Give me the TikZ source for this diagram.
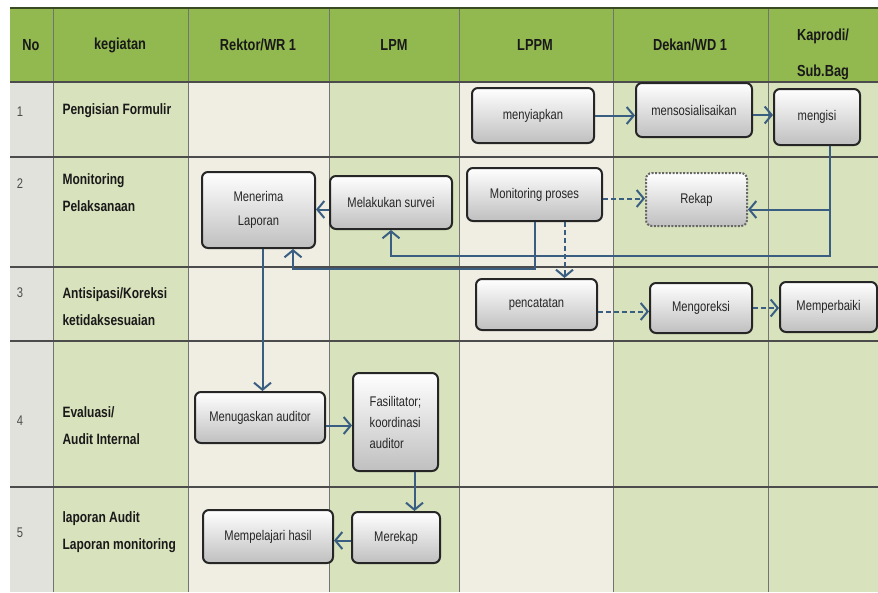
\documentclass[tikz,border=0pt]{standalone}
\usepackage{fontspec}
\setmainfont{Liberation Sans}
\newfontfamily\sempit[FakeStretch=0.8]{Liberation Sans}
\usetikzlibrary{arrows.meta}
\definecolor{kepala}{RGB}{146,184,80}
\definecolor{hijau}{RGB}{216,227,189}
\definecolor{krem}{RGB}{240,237,227}
\definecolor{abu}{RGB}{226,226,220}
\definecolor{garis}{RGB}{58,94,130}

\begin{document}
\begin{tikzpicture}[x=1pt, y=-1pt,
  judul/.style={font=\sempit\bfseries\fontsize{16}{19}\selectfont, text=black!90, align=center},
  nomor/.style={font=\sempit\fontsize{14}{17}\selectfont, text=black!70},
  giat/.style={font=\sempit\bfseries\fontsize{15}{19}\selectfont, text=black!90, align=left, anchor=west},
  kotak/.style={draw=black!85, line width=2pt, rounded corners=6pt, top color=white, bottom color=black!25,
    font=\sempit\fontsize{14}{16}\selectfont, text=black!85, align=center, inner sep=2pt},
  alur/.style={draw=garis, line width=2pt, -{Straight Barb[length=7pt,width=17pt,line width=2pt]}},
  putus/.style={alur, dash pattern=on 5pt off 3pt}]

  \useasboundingbox (0,0) rectangle (878,592);
  % kolom tabel
  \fill[kepala] (10,8) rectangle (878,82);
  \foreach \a/\b/\w in {10/53/abu, 53/188/hijau, 188/329/krem, 329/459/hijau, 459/613/krem, 613/878/hijau}
    \fill[\w] (\a,82) rectangle (\b,592);
  \foreach \a in {53,188,329,459,613,768}
    \draw[black!55, line width=1pt] (\a,8) -- (\a,592);
  \foreach \b in {82,157,267,341,487}
    \draw[black!70, line width=1.4pt] (10,\b) -- (878,\b);
  \draw[black!60!kepala, line width=1.5pt] (10,8) -- (878,8);

  % kepala tabel
  \node[judul] (hNo) at (31,45) {No};
  \node[judul] (hGiat) at (120,45) {kegiatan};
  \node[judul] (hRektor) at (258,45) {Rektor/WR 1};
  \node[judul] (hLpm) at (394,45) {LPM};
  \node[judul] (hLppm) at (535,45) {LPPM};
  \node[judul] (hDekan) at (690,45) {Dekan/WD 1};
  \node[judul] (hKaprodi) at (823,54) {Kaprodi/\\[17pt]Sub.Bag};

  % nomor dan kegiatan
  \node[nomor] (n1) at (20,112) {1};
  \node[nomor] (n2) at (20,184) {2};
  \node[nomor] (n3) at (20,293) {3};
  \node[nomor] (n4) at (20,421) {4};
  \node[nomor] (n5) at (20,533) {5};
  \node[giat] (k1) at (59,111) {Pengisian Formulir};
  \node[giat] (k2) at (59,193) {Monitoring\\[8pt]Pelaksanaan};
  \node[giat] (k3) at (59,307) {Antisipasi/Koreksi\\[8pt]ketidaksesuaian};
  \node[giat] (k4) at (59,426) {Evaluasi/\\[8pt]Audit Internal};
  \node[giat] (k5) at (59,532) {laporan Audit\\[8pt]Laporan monitoring};

  % aktivitas
  \node[kotak, minimum width=122pt, minimum height=55pt] (siap) at (533,115.5) {menyiapkan};
  \node[kotak, minimum width=116pt, minimum height=54pt] (sosial) at (694,110) {mensosialisaikan};
  \node[kotak, minimum width=86pt, minimum height=56pt] (isi) at (817,117) {mengisi};
  \node[kotak, minimum width=113pt, minimum height=76pt] (terima) at (258.5,210) {Menerima\\[8pt]Laporan};
  \node[kotak, minimum width=122pt, minimum height=53pt] (survei) at (391,202.5) {Melakukan survei};
  \node[kotak, minimum width=135pt, minimum height=53pt] (monitor) at (534.5,194.5) {Monitoring proses};
  \node[kotak, draw=black!60, dash pattern=on 2pt off 1.5pt, minimum width=101pt, minimum height=53pt] (rekap) at (696.5,199.5) {Rekap};
  \node[kotak, minimum width=121pt, minimum height=51pt] (catat) at (536.5,304.5) {pencatatan};
  \node[kotak, minimum width=102pt, minimum height=50pt] (koreksi) at (701,308) {Mengoreksi};
  \node[kotak, minimum width=97pt, minimum height=50pt] (perbaiki) at (828.5,307) {Memperbaiki};
  \node[kotak, minimum width=130pt, minimum height=51pt] (tugas) at (260,417.5) {Menugaskan auditor};
  \node[kotak, minimum width=85pt, minimum height=98pt, align=left] (fasil) at (395.5,422) {Fasilitator;\\[5pt]koordinasi\\[5pt]auditor};
  \node[kotak, minimum width=88pt, minimum height=51pt] (merekap) at (396,537.5) {Merekap};
  \node[kotak, minimum width=130pt, minimum height=53pt] (pelajari) at (268,536.5) {Mempelajari hasil};

  % alur
  \draw[alur] (siap.east) -- (siap.east -| sosial.west);
  \draw[alur] ([yshift=-5pt]sosial.east) -- ([yshift=-5pt]sosial.east -| isi.west);
  \draw[alur] ([xshift=13pt]isi.south) |- ([yshift=-10pt]rekap.east);
  \draw[alur] ([xshift=13pt]isi.south) |- (survei.south |- 0,256) -- (survei.south);
  \draw[alur] (monitor.south) |- ([xshift=34.5pt]terima.south |- 0,269) -- ([xshift=34.5pt]terima.south);
  \draw[putus] ([yshift=-4pt]monitor.east) -- ([yshift=-4pt]monitor.east -| rekap.west);
  \draw[putus] ([xshift=30pt]monitor.south) -- ([xshift=30pt]monitor.south |- catat.north);
  \draw[putus] ([yshift=-7pt]catat.east) -- ([yshift=-7pt]catat.east -| koreksi.west);
  \draw[putus] (koreksi.east) -- (koreksi.east -| perbaiki.west);
  \draw[alur] ([yshift=-7pt]survei.west) -- ([yshift=-7pt]survei.west -| terima.east);
  \draw[alur] ([xshift=4pt]terima.south) -- ([xshift=4pt]terima.south |- tugas.north);
  \draw[alur] ([yshift=-8pt]tugas.east) -- ([yshift=-8pt]tugas.east -| fasil.west);
  \draw[alur] ([xshift=19pt]fasil.south) -- ([xshift=19pt]fasil.south |- merekap.north);
  \draw[alur] ([yshift=-3pt]merekap.west) -- ([yshift=-3pt]merekap.west -| pelajari.east);
\end{tikzpicture}
\end{document}
